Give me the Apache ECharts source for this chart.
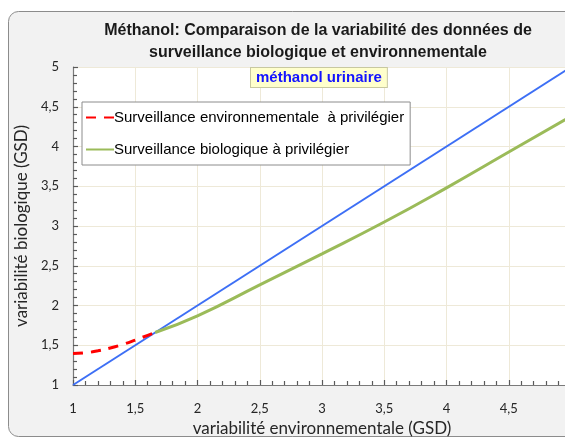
<!DOCTYPE html>
<html><head><meta charset="utf-8">
<script src="https://cdn.jsdelivr.net/npm/echarts@6/dist/echarts.min.js"></script>
<style>html,body{margin:0;padding:0;background:#fff;}#c{width:565px;height:438px;}</style>
</head><body><div id="c"></div>
<script>
const titleLines = ['Méthanol: Comparaison de la variabilité des données de', 'surveillance biologique et environnementale'];
const subtitle = 'méthanol urinaire';
const xName = 'variabilité environnementale (GSD)';
const yName = 'variabilité biologique (GSD)';
const seriesNames = ['Surveillance environnementale  à privilégier', 'Surveillance biologique à privilégier'];
// blue reference line y = x
const refX = [1, 5];
const refY = [1, 5];
// red dashed curve
const envX = [1, 1.1, 1.2, 1.3, 1.4, 1.5, 1.6, 1.66];
const envY = [1.395, 1.405, 1.43, 1.465, 1.51, 1.565, 1.625, 1.66];
// green curve
const bioX = [1.66, 2, 2.5, 3, 3.5, 4, 4.5, 5];
const bioY = [1.66, 1.87, 2.26, 2.65, 3.05, 3.48, 3.93, 4.38];

const pairs = (xs, ys) => xs.map((x, i) => [x, ys[i]]);
const fmt = v => String(v).replace('.', ',');
const labelFont = 'Lato, "Open Sans", sans-serif';
const titleFont = '"Liberation Sans Narrow", "Liberation Sans", Arial, sans-serif';

const chart = echarts.init(document.getElementById('c'), null, {renderer: 'canvas'});
function axis(extra) {
  return Object.assign({
    type: 'value', min: 1, max: 5, interval: 0.5,
    axisLine: {show: true, lineStyle: {color: '#7a7a7a', width: 1.2}},
    axisTick: {show: true, inside: true, length: 5, lineStyle: {color: '#5a5a5a', width: 1.2}},
    minorTick: {show: true, splitNumber: 5, length: 4, lineStyle: {color: '#5a5a5a', width: 1.2}},
    splitLine: {show: true, lineStyle: {color: '#eee9d8', width: 1}},
    nameLocation: 'middle',
    nameTextStyle: {color: '#262626', fontSize: 17, fontFamily: labelFont}
  }, extra);
}
chart.setOption({
  animation: false,
  backgroundColor: '#fff',
  graphic: [
    {type: 'rect', z: -10, silent: true, shape: {x: 8.5, y: 11.5, width: 620, height: 425, r: 10},
     style: {fill: '#f2f2f2', stroke: '#8c8c8c', lineWidth: 1}},
    {type: 'rect', z: -9, silent: true, shape: {x: 73, y: 67, width: 500, height: 318},
     style: {fill: '#ffffff'}},
    {type: 'text', z: 10, x: 318, y: 20, style: {
      text: titleLines.join('\n'), fill: '#1a1a1a', align: 'center', verticalAlign: 'top',
      font: 'bold 16px ' + titleFont, lineHeight: 22}},
    {type: 'text', z: 10, left: 250, top: 67, style: {
      text: subtitle, fill: '#1414ff', font: 'bold 15px ' + titleFont,
      backgroundColor: '#ffffcc', borderColor: '#c8c8a0', borderWidth: 1, padding: [2, 5, 2, 5]}}
  ],
  grid: {left: 73, top: 67, right: -6, bottom: 53, show: false,
         containLabel: false, outerBoundsMode: 'none'},
  xAxis: axis({name: xName, nameGap: 34, axisLabel: {formatter: fmt, color: '#262626', fontSize: 13, fontFamily: labelFont, margin: 17, showMaxLabel: true}}),
  yAxis: axis({name: yName, nameGap: 43, axisLabel: {formatter: fmt, color: '#262626', fontSize: 13, fontFamily: labelFont, margin: 14}}),
  legend: {
    data: seriesNames, orient: 'vertical', left: 82, top: 102, z: 8,
    itemWidth: 28, itemHeight: 12, itemGap: 17,
    itemStyle: {opacity: 0},
    backgroundColor: '#ffffff', borderColor: '#8c8c8c', borderWidth: 1, borderRadius: 0,
    padding: [8, 6, 8, 3],
    textStyle: {color: '#000', fontSize: 15, fontFamily: '"Liberation Sans", Arial, sans-serif', padding: [0, 0, 0, -5]}
  },
  series: [
    {type: 'line', name: 'ref', data: pairs(refX, refY), showSymbol: false, symbol: 'none',
     lineStyle: {color: '#3d6ff5', width: 2}, z: 3},
    {type: 'line', name: seriesNames[0], data: pairs(envX, envY), smooth: true, showSymbol: false, symbol: 'none',
     color: '#ff0000', lineStyle: {color: '#ff0000', width: 3, type: [10, 8]}, z: 4},
    {type: 'line', name: seriesNames[1], data: pairs(bioX, bioY), smooth: true, showSymbol: false, symbol: 'none',
     color: '#9bbb59', lineStyle: {color: '#9bbb59', width: 3}, z: 4}
  ]
});
</script></body></html>
